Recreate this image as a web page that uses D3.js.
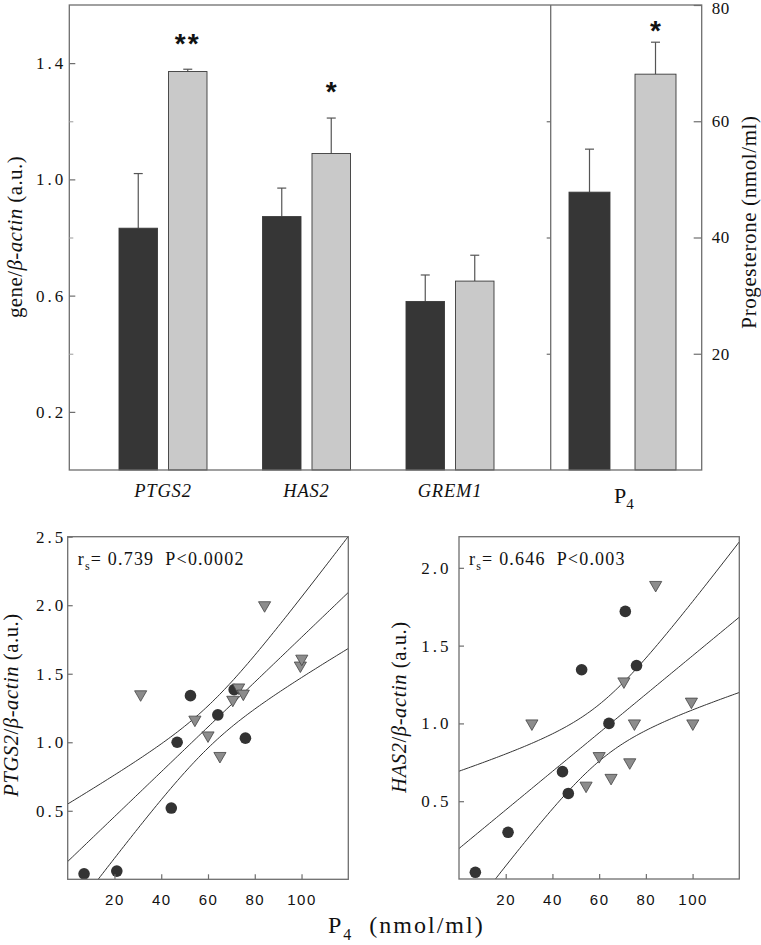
<!DOCTYPE html>
<html><head><meta charset="utf-8">
<script src="https://cdn.jsdelivr.net/npm/d3@7"></script>
<style>body{margin:0;background:#fff} svg{display:block}</style>
</head><body>
<svg id="c" width="761" height="945"></svg>
<script>
// ---------- data: top bar chart ----------
const genes = ["PTGS2", "HAS2", "GREM1"];
const groups = ["dark", "light"];
const geneDark = [0.832, 0.872, 0.580];
const geneDarkErr = [0.188, 0.098, 0.091];
const geneLight = [1.371, 1.089, 0.650];
const geneLightErr = [0.008, 0.122, 0.089];
const geneSig = ["**", "*", ""];
const geneSigY = [1.485, 1.323, null];
const p4Cat = ["P4"];
const p4Dark = [47.8];
const p4DarkErr = [7.4];
const p4Light = [68.1];
const p4LightErr = [5.5];
const p4Sig = ["*"];
const p4SigY = [76.5];
const geneTicks = [0.2, 0.6, 1.0, 1.4];
const geneMinorTicks = [0.4, 0.8, 1.2];
const progTicks = [20, 40, 60, 80];
const progInnerTicks = [20, 40, 60];

// ---------- data: scatter plots ----------
const p4Circ = [7.0, 21.0, 44.3, 46.8, 52.5, 64.2, 71.2, 76.0];
const ptgs2Circ = [0.04, 0.06, 0.52, 1.00, 1.34, 1.20, 1.384, 1.03];
const has2Circ = [0.043, 0.30, 0.69, 0.55, 1.345, 1.00, 1.72, 1.372];
const p4Tri = [31.2, 54.4, 60.0, 65.1, 70.6, 73.1, 75.1, 84.2, 99.5, 100.1];
const ptgs2Tri = [1.35, 1.165, 1.05, 0.90, 1.31, 1.40, 1.355, 2.0, 1.56, 1.61];
const has2Tri = [1.00, 0.60, 0.79, 0.65, 1.27, 0.75, 1.00, 1.89, 1.14, 1.00];
const scatXTicks = [20, 40, 60, 80, 100];
const ptgs2YTicks = [0.5, 1.0, 1.5, 2.0, 2.5];
const has2YTicks = [0.5, 1.0, 1.5, 2.0];
const stats = [["0.739", "P<0.0002"], ["0.646", "P<0.003"]];
const tCrit = 2.120; // t(0.975, df=16)

// ---------- styling ----------
const SERIF = "'Liberation Serif','Times New Roman',serif";
const SANS = "'Liberation Sans',Arial,sans-serif";
const FRAME = "#6e6e6e";
const DARK = "#363636", LIGHT = "#c9c9c9";

const svg = d3.select("#c");

// ================= TOP CHART =================
const T = {left: 69.3, mid: 550.7, right: 701.7, top: 5, bottom: 470};
const yGene = d3.scaleLinear().domain([0, 1.6]).range([T.bottom, T.top]);
const yProg = d3.scaleLinear().domain([0, 80]).range([T.bottom, T.top]);
const xGene = d3.scalePoint().domain(genes).range([163, 450]);
const xSub = d3.scaleBand().domain(groups).range([-44, 44]).paddingInner(0.222);
const xP4 = d3.scalePoint().domain(p4Cat).range([545, 700]);
const xSubP4 = d3.scaleBand().domain(groups).range([-53.5, 53.5]).paddingInner(0.379);

const geneRows = genes.map((g, i) => [
  {g, grp: "dark", v: geneDark[i], e: geneDarkErr[i]},
  {g, grp: "light", v: geneLight[i], e: geneLightErr[i]}
]).flat();
const p4Rows = [
  {g: "P4", grp: "dark", v: p4Dark[0], e: p4DarkErr[0]},
  {g: "P4", grp: "light", v: p4Light[0], e: p4LightErr[0]}
];

function drawBars(rows, xs, xsub, ys) {
  const gb = svg.append("g");
  rows.forEach(r => {
    const x0 = xs(r.g) + xsub(r.grp);
    const w = xsub.bandwidth();
    const cx = x0 + w / 2;
    gb.append("line").attr("x1", cx).attr("x2", cx)
      .attr("y1", ys(r.v)).attr("y2", ys(r.v + r.e))
      .attr("stroke", "#555").attr("stroke-width", 1.2);
    gb.append("line").attr("x1", cx - 4.5).attr("x2", cx + 4.5)
      .attr("y1", ys(r.v + r.e)).attr("y2", ys(r.v + r.e))
      .attr("stroke", "#555").attr("stroke-width", 1.2);
    gb.append("rect").attr("x", x0).attr("width", w)
      .attr("y", ys(r.v)).attr("height", ys(0) - ys(r.v))
      .attr("fill", r.grp === "dark" ? DARK : LIGHT)
      .attr("stroke", "#3a3a3a").attr("stroke-width", 0.9);
  });
}
drawBars(geneRows, xGene, xSub, yGene);
drawBars(p4Rows, xP4, xSubP4, yProg);

svg.append("rect").attr("x", T.left).attr("y", T.top)
  .attr("width", T.right - T.left).attr("height", T.bottom - T.top)
  .attr("fill", "none").attr("stroke", FRAME).attr("stroke-width", 1.3);
svg.append("line").attr("x1", T.mid).attr("x2", T.mid).attr("y1", T.top).attr("y2", T.bottom)
  .attr("stroke", FRAME).attr("stroke-width", 1.3);

function styleAxis(g, font, size, ls) {
  g.select(".domain").remove();
  g.selectAll(".tick line").attr("stroke", FRAME).attr("stroke-width", 1.2);
  g.selectAll(".tick text").attr("fill", "#111").style("font-family", font)
    .style("font-size", size + "px").style("letter-spacing", ls + "px");
}

const gl = svg.append("g").attr("transform", `translate(${T.left},0)`)
  .call(d3.axisLeft(yGene).tickValues(geneTicks).tickFormat(d3.format(".1f"))
    .tickSizeInner(-6).tickSizeOuter(0).tickPadding(3));
styleAxis(gl, SERIF, 17, 3);
const glm = svg.append("g").attr("transform", `translate(${T.left},0)`)
  .call(d3.axisLeft(yGene).tickValues(geneMinorTicks).tickFormat("")
    .tickSizeInner(-4).tickSizeOuter(0));
styleAxis(glm, SERIF, 17, 0);
glm.selectAll(".tick line").attr("stroke", "#aaa");

const gd = svg.append("g").attr("transform", `translate(${T.mid},0)`)
  .call(d3.axisLeft(yProg).tickValues(progInnerTicks).tickFormat("")
    .tickSizeInner(4).tickSizeOuter(0));
styleAxis(gd, SERIF, 17, 0);

const gr = svg.append("g").attr("transform", `translate(${T.right},0)`)
  .call(d3.axisRight(yProg).tickValues(progTicks).tickFormat(d3.format("d"))
    .tickSizeInner(-8).tickSizeOuter(0).tickPadding(10));
styleAxis(gr, SERIF, 17, 0.5);
gr.selectAll(".tick text").filter(d => d === 80).attr("dy", "0.5em");

genes.forEach(g => {
  svg.append("text").attr("x", xGene(g)).attr("y", 497)
    .attr("text-anchor", "middle").attr("fill", "#111")
    .style("font-family", SERIF).style("font-style", "italic")
    .style("font-size", "18.5px").style("letter-spacing", "0.8px").text(g);
});
{
  const t = svg.append("text").attr("x", 614).attr("y", 503)
    .attr("fill", "#111").style("font-family", SERIF).style("font-size", "22px");
  t.append("tspan").text("P");
  t.append("tspan").attr("dy", 6).style("font-size", "15px").text("4");
}

function sigText(x, y, s) {
  svg.append("text").attr("x", x).attr("y", y + 15).attr("text-anchor", "middle")
    .attr("fill", "#111").style("font-family", SANS).style("font-weight", "bold")
    .style("font-size", "28px").style("letter-spacing", s.length > 1 ? "2px" : "0px").text(s);
}
genes.forEach((g, i) => {
  if (geneSig[i]) sigText(xGene(g) + xSub("light") + xSub.bandwidth() / 2, yGene(geneSigY[i]), geneSig[i]);
});
sigText(xP4("P4") + xSubP4("light") + xSubP4.bandwidth() / 2, yProg(p4SigY[0]), p4Sig[0]);

{
  const t = svg.append("text").attr("transform", "translate(22,237) rotate(-90)")
    .attr("text-anchor", "middle").attr("fill", "#111")
    .style("font-family", SERIF).style("font-size", "21px").style("letter-spacing", "0.4px");
  t.append("tspan").text("gene/");
  t.append("tspan").style("font-style", "italic").text("β-actin");
  t.append("tspan").text(" (a.u.)");
}
svg.append("text").attr("transform", "translate(756,222) rotate(-90)")
  .attr("text-anchor", "middle").attr("fill", "#111")
  .style("font-family", SERIF).style("font-size", "21px").style("letter-spacing", "0.6px")
  .text("Progesterone (nmol/ml)");

// ================= SCATTER PLOTS =================
function fitLine(xs, ys) {
  const n = xs.length;
  const mx = d3.mean(xs), my = d3.mean(ys);
  let sxx = 0, sxy = 0;
  xs.forEach((x, i) => { sxx += (x - mx) ** 2; sxy += (x - mx) * (ys[i] - my); });
  const b = sxy / sxx, a = my - b * mx;
  let sse = 0;
  xs.forEach((x, i) => { sse += (ys[i] - a - b * x) ** 2; });
  const s = Math.sqrt(sse / (n - 2));
  return {a, b, mx, sxx, s, n};
}

function scatter(cfg) {
  const {x0, x1, y0, y1, ymax, yTicks, xs, ys, gene, stat, yLabX, yLabY, yPad, clipId} = cfg;
  const x = d3.scaleLinear().domain([0, 120]).range([x0, x1]);
  const y = d3.scaleLinear().domain([0, ymax]).range([y1, y0]);
  svg.append("clipPath").attr("id", clipId).append("rect")
    .attr("x", x0).attr("y", y0).attr("width", x1 - x0).attr("height", y1 - y0);

  const allX = xs[0].concat(xs[1]);
  const allY = ys[0].concat(ys[1]);
  const f = fitLine(allX, allY);
  const grid = d3.range(0, 120.01, 1);
  const hw = xv => tCrit * f.s * Math.sqrt(1 / f.n + (xv - f.mx) ** 2 / f.sxx);
  const line = d3.line().x(d => x(d[0])).y(d => y(d[1]));
  const lg = svg.append("g").attr("clip-path", `url(#${clipId})`);
  [0, 1, -1].forEach(k => {
    lg.append("path").datum(grid.map(xv => [xv, f.a + f.b * xv + k * hw(xv)]))
      .attr("d", line).attr("fill", "none").attr("stroke", "#333").attr("stroke-width", 1);
  });

  const pg = svg.append("g");
  xs[0].forEach((xv, i) => {
    pg.append("circle").attr("cx", x(xv)).attr("cy", y(ys[0][i])).attr("r", 5.8)
      .attr("fill", "#333");
  });
  const tri = d3.symbol().type(d3.symbolTriangle).size(64);
  xs[1].forEach((xv, i) => {
    pg.append("path").attr("d", tri())
      .attr("transform", `translate(${x(xv)},${y(ys[1][i])}) rotate(180)`)
      .attr("fill", "#8c8c8c").attr("stroke", "#444").attr("stroke-width", 0.8);
  });

  svg.append("rect").attr("x", x0).attr("y", y0).attr("width", x1 - x0).attr("height", y1 - y0)
    .attr("fill", "none").attr("stroke", FRAME).attr("stroke-width", 1.3);

  const ax = svg.append("g").attr("transform", `translate(0,${y1})`)
    .call(d3.axisBottom(x).tickValues(scatXTicks).tickFormat(d3.format("d"))
      .tickSizeInner(-5).tickSizeOuter(0).tickPadding(15));
  styleAxis(ax, SANS, 15, 1.5);
  const ay = svg.append("g").attr("transform", `translate(${x0},0)`)
    .call(d3.axisLeft(y).tickValues(yTicks).tickFormat(d3.format(".1f"))
      .tickSizeInner(-5).tickSizeOuter(0).tickPadding(yPad));
  styleAxis(ay, SERIF, 17, 3);

  const st = svg.append("text").attr("x", x0 + 10).attr("y", y0 + 28)
    .attr("fill", "#111").style("font-family", SERIF).style("font-size", "18px")
    .style("letter-spacing", "1.2px");
  st.append("tspan").text("r");
  st.append("tspan").attr("dy", 5).style("font-size", "12px").text("s");
  st.append("tspan").attr("dy", -5).text("= " + stat[0]);
  st.append("tspan").attr("dx", 11).text(stat[1]);

  const t = svg.append("text").attr("transform", `translate(${yLabX},${yLabY}) rotate(-90)`)
    .attr("text-anchor", "middle").attr("fill", "#111")
    .style("font-family", SERIF).style("font-size", "20.5px").style("letter-spacing", "0.6px");
  t.append("tspan").style("font-style", "italic").text(gene);
  t.append("tspan").text("/");
  t.append("tspan").style("font-style", "italic").text("β-actin");
  t.append("tspan").text(" (a.u.)");
}

scatter({x0: 67.7, x1: 348.3, y0: 536.7, y1: 879.3, ymax: 2.5, yTicks: ptgs2YTicks,
  xs: [p4Circ, p4Tri], ys: [ptgs2Circ, ptgs2Tri], gene: "PTGS2", stat: stats[0],
  yLabX: 18, yLabY: 705, yPad: 1.5, clipId: "clipL"});
scatter({x0: 459, x1: 739.3, y0: 536.7, y1: 879, ymax: 2.2, yTicks: has2YTicks,
  xs: [p4Circ, p4Tri], ys: [has2Circ, has2Tri], gene: "HAS2", stat: stats[1],
  yLabX: 406, yLabY: 707, yPad: 7.5, clipId: "clipR"});

{
  const t = svg.append("text").attr("x", 328).attr("y", 933)
    .attr("fill", "#111").style("font-family", SERIF).style("font-size", "24px")
    .style("letter-spacing", "2px");
  t.append("tspan").text("P");
  t.append("tspan").attr("dy", 7).style("font-size", "16px").text("4");
  t.append("tspan").attr("dy", -7).attr("dx", 16).text("(nmol/ml)");
}
</script>
</body></html>
